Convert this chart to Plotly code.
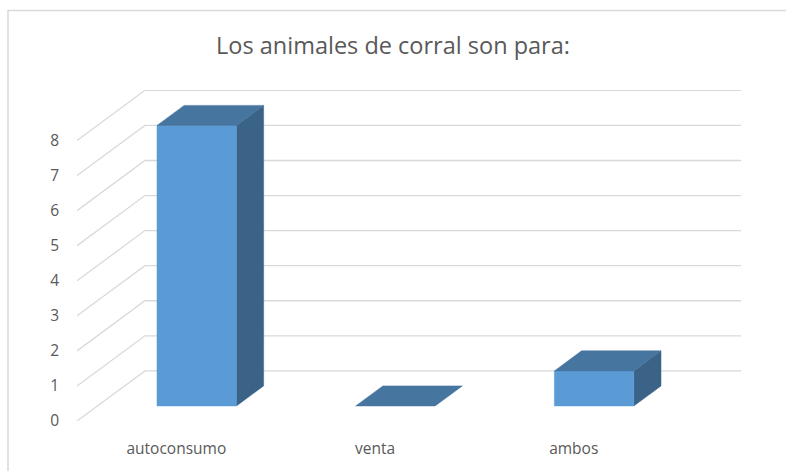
import plotly.graph_objects as go

# Data
categories = ["autoconsumo", "venta", "ambos"]
values = [8, 0, 1]
y_ticks = [0, 1, 2, 3, 4, 5, 6, 7, 8]
title_text = "Los animales de corral son para:"

# Oblique projection of the 3-D box (depth measured in axis units)
DEPTH_X = 0.342     # horizontal shift of the back wall, in category units
DEPTH_Y = 1.43      # vertical shift of the back wall, in value units
BAR_HALF = 0.2      # half width of a bar, in category units
BAR_FRONT = 0.3     # bar front plane as fraction of full depth
BAR_DEPTH = 0.4     # bar depth as fraction of full depth

GRID = "#D9D9D9"
FRONT = "#5B9BD5"
TOP = "#4675A0"
SIDE = "#3A6387"
TEXT = "#595959"

x_lo = -0.5
x_hi = len(categories) - 0.5

fig = go.Figure()

# Gridlines: diagonal on the side wall, horizontal on the back wall
for v in y_ticks:
    fig.add_trace(go.Scatter(
        x=[x_lo, x_lo + DEPTH_X, x_hi + DEPTH_X],
        y=[v, v + DEPTH_Y, v + DEPTH_Y],
        mode="lines", line=dict(color=GRID, width=1.3),
        hoverinfo="skip", showlegend=False))


def poly(xs, ys, color):
    fig.add_trace(go.Scatter(
        x=xs + [xs[0]], y=ys + [ys[0]], mode="lines", fill="toself",
        fillcolor=color, line=dict(color=color, width=0.5),
        hoverinfo="skip", showlegend=False))


for i, (cat, val) in enumerate(zip(categories, values)):
    ox = BAR_FRONT * DEPTH_X
    oy = BAR_FRONT * DEPTH_Y
    bx = BAR_DEPTH * DEPTH_X
    by = BAR_DEPTH * DEPTH_Y
    xl = i - BAR_HALF + ox
    xr = i + BAR_HALF + ox
    base = oy
    top = val + oy
    if val > 0:
        # side face
        poly([xr, xr + bx, xr + bx, xr], [base, base + by, top + by, top], SIDE)
        # front face
        poly([xl, xr, xr, xl], [base, base, top, top], FRONT)
    # top face
    poly([xl, xr, xr + bx, xl + bx], [top, top, top + by, top + by], TOP)

y_top = 9.44

fig.update_layout(
    width=786, height=471,
    margin=dict(l=77, r=45, t=90, b=44),
    paper_bgcolor="white", plot_bgcolor="white",
    font=dict(family="Open Sans", color=TEXT, size=15.5),
    title=dict(text=title_text, x=0.5, xanchor="center", y=1 - 46 / 471,
               yanchor="middle", font=dict(family="Open Sans", size=23.5, color=TEXT)),
    xaxis=dict(range=[x_lo, x_hi + DEPTH_X], tickvals=list(range(len(categories))),
               ticktext=categories, showgrid=False, zeroline=False, showline=False,
               ticks="", ticklabelstandoff=16, tickfont=dict(size=15.5)),
    yaxis=dict(range=[0, y_top], tickvals=y_ticks, showgrid=False, zeroline=False,
               showline=False, ticks="", ticklabelstandoff=17, tickfont=dict(size=15.5)),
)

# outer chart border (left and top edges visible)
fig.add_shape(type="rect", xref="paper", yref="paper",
              x0=-69 / 664, x1=1 + 60 / 664, y0=-60 / 337, y1=1 + 81 / 337,
              line=dict(color="#D9D9D9", width=1.5), layer="below")

fig.write_html("out.html")
